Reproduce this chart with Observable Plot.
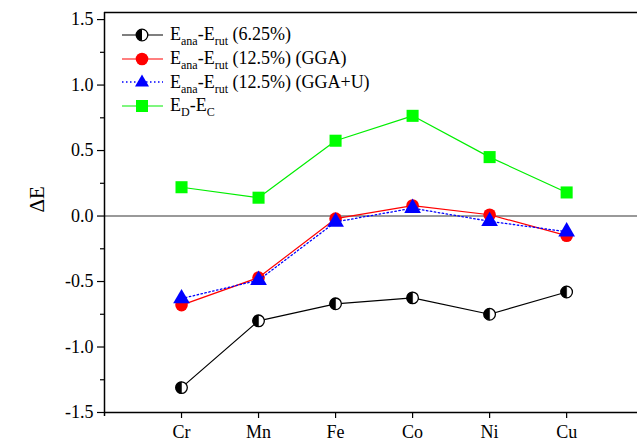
<!DOCTYPE html>
<html>
<head>
<meta charset="utf-8">
<script src="https://cdn.jsdelivr.net/npm/d3@7"></script>
<script src="https://cdn.jsdelivr.net/npm/@observablehq/plot@0.6"></script>
<style>
  html, body { margin: 0; padding: 0; background: #fff; }
  #wrap { position: relative; width: 637px; height: 442px; overflow: hidden; font-family: 'Liberation Serif', 'Times New Roman', 'DejaVu Serif', serif; }
  #wrap svg text { font-family: 'Liberation Serif', 'Times New Roman', 'DejaVu Serif', serif; }
  #legend { position: absolute; left: 120px; top: 23px; font-size: 18px; color: #000; }
  .row { height: 23.7px; display: flex; align-items: center; white-space: nowrap; }
  .row svg { flex: none; margin-right: 5px; }
  .row sub { font-size: 12px; vertical-align: -5px; line-height: 0; }
</style>
</head>
<body>
<div id="wrap"><div id="legend"></div></div>
<script>
const elements = ["Cr", "Mn", "Fe", "Co", "Ni", "Cu"];
const ana625 = [-1.31, -0.80, -0.67, -0.625, -0.75, -0.58];
const gga = [-0.68, -0.47, -0.02, 0.08, 0.01, -0.15];
const ggaU = [-0.63, -0.49, -0.045, 0.06, -0.04, -0.12];
const dc = [0.22, 0.14, 0.575, 0.765, 0.45, 0.18];
const yTicks = [-1.5, -1.0, -0.5, 0.0, 0.5, 1.0, 1.5];
const yMinor = [-1.25, -0.75, -0.25, 0.25, 0.75, 1.25];
const legendLabels = [
  ["E", "ana", "-E", "rut", " (6.25%)"],
  ["E", "ana", "-E", "rut", " (12.5%) (GGA)"],
  ["E", "ana", "-E", "rut", " (12.5%) (GGA+U)"],
  ["E", "D", "-E", "C", ""]
];

const toRows = vals => vals.map((v, i) => ({x: i + 1, y: v, name: elements[i]}));
const dAna = toRows(ana625), dGga = toRows(gga), dGgaU = toRows(ggaU), dDc = toRows(dc);

const halfLeft = {
  draw(context, size) {
    const r = Math.sqrt(size / Math.PI);
    context.moveTo(0, -r);
    context.arc(0, 0, r, -Math.PI / 2, Math.PI / 2, true);
    context.closePath();
  }
};

const font = "'Liberation Serif', 'Times New Roman', 'DejaVu Serif', serif";

const plot = Plot.plot({
  width: 637,
  height: 442,
  marginLeft: 104,
  marginRight: 0,
  marginTop: 12,
  marginBottom: 30,
  style: {fontFamily: font, fontSize: "18px", background: "#fff", color: "#000"},
  x: {domain: [0, 6.92]},
  y: {domain: [-1.5, 1.554]},
  marks: [
    Plot.ruleY([0], {stroke: "#777", strokeWidth: 1.5}),
    Plot.ruleY([1.554], {stroke: "#000", strokeWidth: 1.5}),
    Plot.ruleY([-1.5], {stroke: "#000", strokeWidth: 1.5}),
    Plot.ruleX([0], {y1: -1.53, y2: 1.554, stroke: "#000", strokeWidth: 1.5}),
    Plot.axisY({ticks: yMinor, tickSize: 4, tickFormat: () => "", strokeWidth: 1.2, label: null}),
    Plot.axisY({ticks: yTicks, tickSize: 7, tickPadding: 4, tickFormat: d => d.toFixed(1), fontSize: 18, strokeWidth: 1.2, label: null}),
    Plot.axisX({ticks: [1, 2, 3, 4, 5, 6], tickSize: 6, tickPadding: 7, tickFormat: d => elements[d - 1], fontSize: 18, strokeWidth: 1.2, label: null}),
    Plot.text(["ΔE"], {frameAnchor: "left", dx: -67, rotate: -90, fontSize: 21, fill: "#000"}),
    // green
    Plot.line(dDc, {x: "x", y: "y", stroke: "#00ee00", strokeWidth: 1.2}),
    Plot.dot(dDc, {x: "x", y: "y", symbol: "square", r: 6.8, fill: "#00ff00", stroke: "none"}),
    // black half circles
    Plot.line(dAna, {x: "x", y: "y", stroke: "#000", strokeWidth: 1.2}),
    Plot.dot(dAna, {x: "x", y: "y", r: 5.8, fill: "#fff", stroke: "#000", strokeWidth: 1.3}),
    Plot.dot(dAna, {x: "x", y: "y", symbol: halfLeft, r: 5.8, fill: "#000", stroke: "#000", strokeWidth: 0.5}),
    // red
    Plot.line(dGga, {x: "x", y: "y", stroke: "#ff0000", strokeWidth: 1.2}),
    Plot.dot(dGga, {x: "x", y: "y", r: 6.3, fill: "#ff0000", stroke: "none"}),
    // blue
    Plot.line(dGgaU, {x: "x", y: "y", stroke: "#0000ff", strokeWidth: 1.3, strokeDasharray: "1.5,2.5"}),
    Plot.dot(dGgaU, {x: "x", y: "y", symbol: "triangle", r: 6.2, fill: "#0000ff", stroke: "none"})
  ]
});
document.getElementById("wrap").prepend(plot);

// legend (HTML)
const legendSymbols = [
  `<line x1="2" y1="12" x2="43" y2="12" stroke="#000" stroke-width="1.2"/><circle cx="22" cy="12" r="5.8" fill="#fff" stroke="#000" stroke-width="1.3"/><path d="M22,6.2A5.8,5.8 0 0 0 22,17.8Z" fill="#000"/>`,
  `<line x1="2" y1="12" x2="43" y2="12" stroke="#ff0000" stroke-width="1.2"/><circle cx="22" cy="12" r="6.3" fill="#ff0000"/>`,
  `<line x1="2" y1="12" x2="43" y2="12" stroke="#0000ff" stroke-width="1.3" stroke-dasharray="1.5,2.5"/><path d="M22,4.5L29,16.5L15,16.5Z" fill="#0000ff"/>`,
  `<line x1="2" y1="12" x2="43" y2="12" stroke="#00ee00" stroke-width="1.2"/><rect x="16" y="6" width="12" height="12" fill="#00ff00"/>`
];
const legend = document.getElementById("legend");
legendLabels.forEach((parts, i) => {
  const row = document.createElement("div");
  row.className = "row";
  row.innerHTML = `<svg width="45" height="24">${legendSymbols[i]}</svg><span>${parts[0]}<sub>${parts[1]}</sub>${parts[2]}<sub>${parts[3]}</sub>${parts[4]}</span>`;
  legend.appendChild(row);
});
</script>
</body>
</html>
